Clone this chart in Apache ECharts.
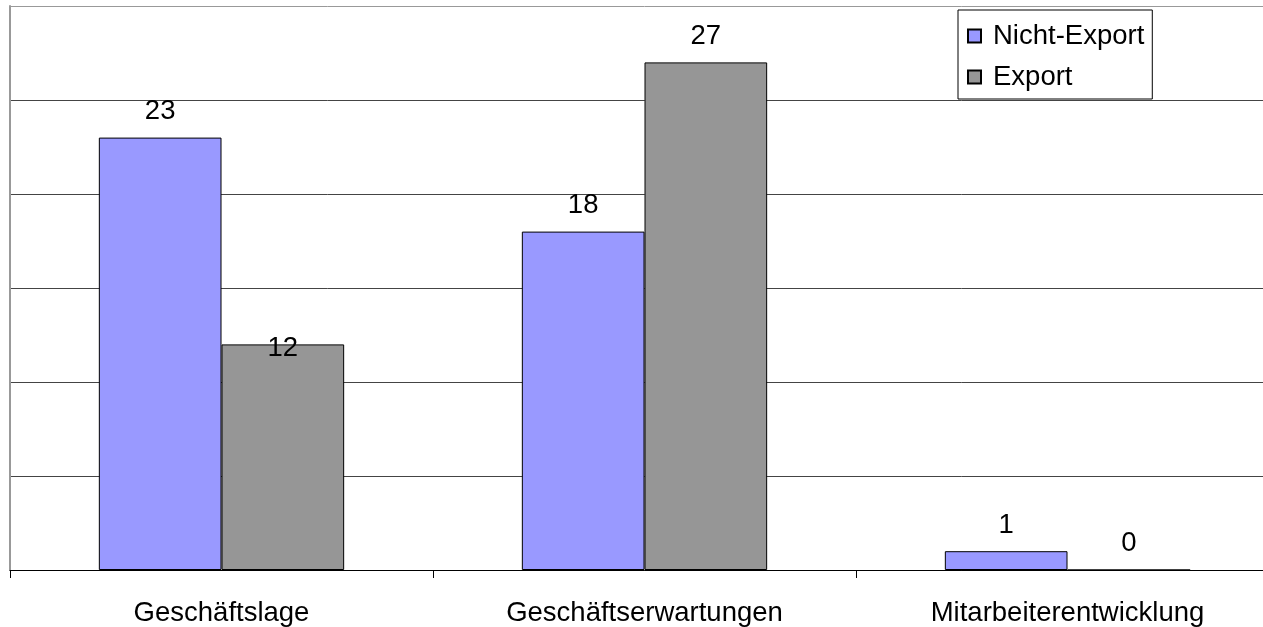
<!DOCTYPE html>
<html>
<head>
<meta charset="utf-8">
<script src="https://cdn.jsdelivr.net/npm/echarts@6/dist/echarts.min.js"></script>
<style>html,body{margin:0;padding:0;background:#fff;overflow:hidden}#c{width:1279px;height:627px}</style>
</head>
<body>
<div id="c"></div>
<script>
const categories = ['Geschäftslage', 'Geschäftserwartungen', 'Mitarbeiterentwicklung'];
const nichtExport = [23, 18, 1];
const exportVals = [12, 27, 0];
const seriesNames = ['Nicht-Export', 'Export'];

const chart = echarts.init(document.getElementById('c'));
const font = 'Liberation Sans, Arial, sans-serif';
const fs = 27.5;
const labelBase = { show: true, position: 'top', distance: 12, fontSize: fs, color: '#000', fontFamily: font };

chart.setOption({
  animation: false,
  grid: { left: 10, top: 6, right: 0, bottom: 56, containLabel: false },
  legend: {
    orient: 'vertical', left: 958, top: 10,
    padding: [12, 8, 8, 9], itemGap: 13,
    borderColor: '#000', borderWidth: 1, backgroundColor: '#fff',
    icon: 'rect', itemWidth: 13, itemHeight: 13,
    textStyle: { fontSize: fs, color: '#000', fontFamily: font, padding: [0, 0, 0, 7] },
    data: seriesNames
  },
  xAxis: {
    type: 'category', data: categories,
    axisLine: { lineStyle: { color: '#000', width: 1 } },
    axisTick: { show: true, length: 8, lineStyle: { color: '#000' } },
    axisLabel: { fontSize: fs, color: '#000', fontFamily: font, margin: 29 }
  },
  yAxis: {
    type: 'value', min: 0, max: 30, interval: 5,
    axisLine: { show: true, lineStyle: { color: '#999', width: 2 } },
    axisTick: { show: false }, axisLabel: { show: false },
    splitLine: { lineStyle: { color: ['#444', '#444', '#444', '#444', '#444', '#444', '#999'], width: 1 } }
  },
  series: [
    {
      name: seriesNames[0], type: 'bar', data: nichtExport,
      barGap: '0%', barCategoryGap: '42%',
      itemStyle: { color: '#9999FF', borderColor: '#000', borderWidth: 1 },
      label: labelBase
    },
    {
      name: seriesNames[1], type: 'bar',
      data: exportVals.map((v, i) => i === 0 ? { value: v, label: { offset: [0, 30] } } : v),
      itemStyle: { color: '#969696', borderColor: '#000', borderWidth: 1 },
      label: labelBase
    }
  ]
});
</script>
</body>
</html>
